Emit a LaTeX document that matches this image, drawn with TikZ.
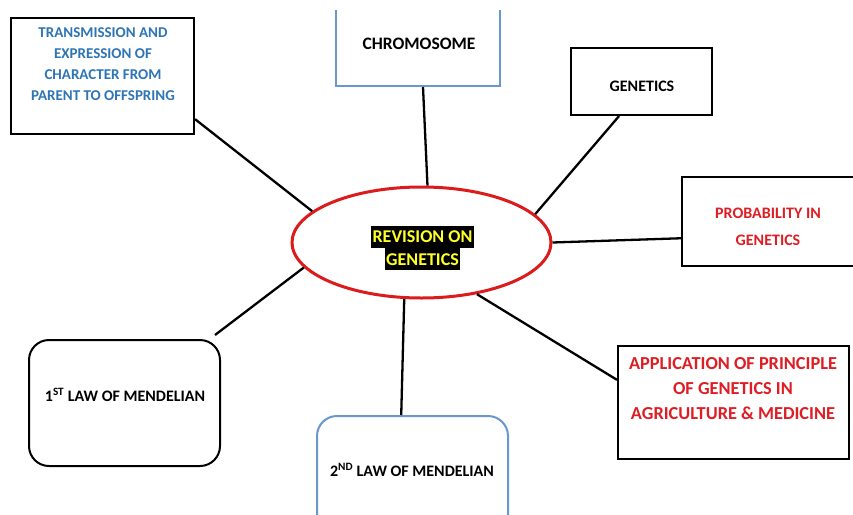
\documentclass[tikz,border=0pt]{standalone}
\usepackage{fontspec}
\setmainfont{Carlito}
\usetikzlibrary{shapes.geometric}
\definecolor{txtblue}{RGB}{46,117,182}
\definecolor{txtred}{RGB}{222,30,36}
\definecolor{ellred}{RGB}{220,28,28}
\definecolor{bordblue}{RGB}{104,152,206}
\definecolor{hiyellow}{RGB}{255,255,40}
\tikzset{
  x=1pt,y=-1pt,
  box/.style={draw=black,line width=2pt,fill=white,rectangle,inner sep=0pt},
  bluebox/.style={draw=bordblue,line width=2pt,fill=white,rectangle,inner sep=0pt},
  txt/.style={font=\bfseries\fontsize{15}{21}\selectfont,align=center,inner sep=0pt},
  midtxt/.style={font=\bfseries\fontsize{16}{27}\selectfont,align=center,inner sep=0pt},
  bigtxt/.style={font=\bfseries\fontsize{18.3}{25}\selectfont,align=center,inner sep=0pt},
  conn/.style={draw=black,line width=2.3pt},
  hl/.style={fill=black,text=hiyellow,font=\bfseries\fontsize{18}{22}\selectfont,inner xsep=1.5pt,inner ysep=0pt,minimum height=22pt}
}
\begin{document}
\begin{tikzpicture}
\clip (0,0) rectangle (853,514);
\fill[white] (0,0) rectangle (853,514);
% central ellipse
\node[ellipse,draw=ellred,line width=3pt,minimum width=259pt,minimum height=111pt,inner sep=0pt] (ell) at (421.5,242.5) {};
\node[hl] (r1) at (422.5,237) {REVISION ON};
\node[hl,anchor=north] (r2) at (r1.south) {GENETICS};
% boxes
\node[box,minimum width=183pt,minimum height=116pt] (trans) at (102.5,76) {};
\node[txt,text=txtblue] (transt) at (103,64.5) {TRANSMISSION AND\\EXPRESSION OF\\CHARACTER FROM\\PARENT TO OFFSPRING};
\begin{scope}
\clip (0,10) rectangle (853,514);
\node[bluebox,minimum width=164pt,minimum height=96pt] (chrom) at (418,38) {};
\end{scope}
\node[txt,font=\bfseries\fontsize{17.5}{21}\selectfont] (chromt) at (419,44) {CHROMOSOME};
\node[box,minimum width=141pt,minimum height=67pt] (gen) at (641.5,81.5) {};
\node[midtxt] (gent) at (642,86) {GENETICS};
\node[box,minimum width=188pt,minimum height=89pt] (prob) at (776,221.5) {};
\node[midtxt,text=txtred] (probt) at (768,226.5) {PROBABILITY IN\\GENETICS};
\node[box,minimum width=231pt,minimum height=113pt] (app) at (733.5,402.5) {};
\node[bigtxt,text=txtred] (appt) at (733,389) {APPLICATION OF PRINCIPLE\\OF GENETICS IN\\AGRICULTURE \& MEDICINE};
\node[box,rounded corners=20pt,minimum width=191pt,minimum height=126pt] (first) at (124.5,403) {};
\node[midtxt] (firstt) at (125,395) {1\textsuperscript{ST} LAW OF MENDELIAN};
\node[bluebox,rounded corners=20pt,minimum width=191pt,minimum height=126pt] (second) at (412.5,479) {};
\node[midtxt] (secondt) at (412,470) {2\textsuperscript{ND} LAW OF MENDELIAN};
% connectors
\draw[conn] (trans.-25.7) -- (ell.164.8);
\draw[conn] ([xshift=5pt]chrom.south) -- (ell.84.4);
\draw[conn] (gen.-123.9) -- (ell.14.6);
\draw[conn] (prob.190) -- (ell.0.2);
\draw[conn] (app.169) -- (ell.-43.4);
\draw[conn] (second.100.3) -- (ell.-107.2);
\draw[conn] ([xshift=-6pt,yshift=4pt]first.north east) -- (ell.192.8);
\end{tikzpicture}
\end{document}
